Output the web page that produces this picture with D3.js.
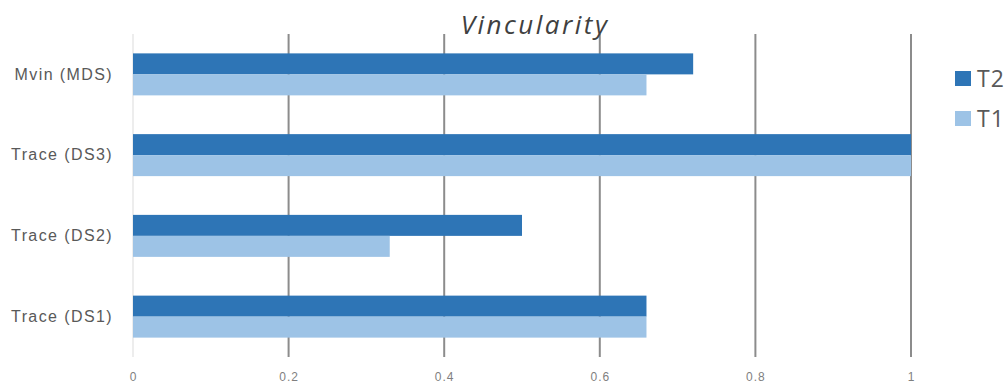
<!DOCTYPE html>
<html>
<head>
<meta charset="utf-8">
<script src="https://cdn.jsdelivr.net/npm/d3@7"></script>
<style>
  html, body { margin: 0; padding: 0; background: #fff; }
  svg { display: block; font-family: "Open Sans", "Noto Sans", sans-serif; }
</style>
</head>
<body>
<svg id="chart" width="1008" height="385"></svg>
<script>
// Vincularity scores per method, two time points
const categories = ["Mvin (MDS)", "Trace (DS3)", "Trace (DS2)", "Trace (DS1)"];
const seriesNames = ["T2", "T1"];
const t2Values = [0.72, 1.0, 0.5, 0.66];
const t1Values = [0.66, 1.0, 0.33, 0.66];
const tickValues = [0, 0.2, 0.4, 0.6, 0.8, 1];
const tickLabels = ["0", "0.2", "0.4", "0.6", "0.8", "1"];
const colors = { T2: "#2e75b6", T1: "#9dc3e6" };

const rows = categories.map((c, i) => ({ category: c, T2: t2Values[i], T1: t1Values[i] }));

const svg = d3.select("#chart");
const margin = { left: 133, right: 97, top: 34, bottom: 28 };
const width = 1008, height = 385;

const x = d3.scaleLinear().domain([0, 1]).range([margin.left, width - margin.right]);
const y = d3.scaleBand().domain(categories).range([margin.top, height - margin.bottom]).paddingInner(0.48).paddingOuter(0.24);
const ySub = d3.scaleBand().domain(seriesNames).range([0, y.bandwidth()]);

// vertical gridlines
svg.append("g").selectAll("line").data(tickValues).join("line")
  .attr("x1", d => x(d)).attr("x2", d => x(d))
  .attr("y1", margin.top).attr("y2", height - margin.bottom)
  .attr("stroke", d => d === 0 ? "#ededed" : "#8c8c8c")
  .attr("stroke-width", 2);

// bars
const groups = svg.append("g").selectAll("g").data(rows).join("g")
  .attr("transform", d => `translate(0,${y(d.category)})`);
groups.selectAll("rect").data(d => seriesNames.map(s => ({ s, v: d[s] }))).join("rect")
  .attr("x", x(0))
  .attr("y", d => ySub(d.s))
  .attr("width", d => x(d.v) - x(0))
  .attr("height", ySub.bandwidth())
  .attr("fill", d => colors[d.s]);

// category labels
const yAxis = svg.append("g").attr("transform", `translate(${margin.left - 20},0)`)
  .call(d3.axisLeft(y).tickSize(0).tickPadding(0));
yAxis.select(".domain").remove();
yAxis.selectAll("text").attr("fill", "#595959").style("font-size", "16px").style("letter-spacing", "1.4px");

// value axis labels
const xAxis = svg.append("g").attr("transform", `translate(0,${height - 8})`)
  .call(d3.axisBottom(x).tickValues(tickValues).tickFormat((d, i) => tickLabels[i]).tickSize(0).tickPadding(0));
xAxis.select(".domain").remove();
xAxis.selectAll("text").attr("fill", "#7f7f7f").style("font-size", "12px").style("letter-spacing", "1px").attr("dy", "0.32em").attr("y", 0);

// title
svg.append("text").attr("x", 535).attr("y", 34)
  .attr("text-anchor", "middle").attr("font-style", "italic")
  .attr("fill", "#404040").style("font-size", "26px").style("letter-spacing", "2.5px").text("Vincularity");

// legend
const legend = svg.append("g").selectAll("g").data(seriesNames).join("g")
  .attr("transform", (d, i) => `translate(955,${71 + i * 40})`);
legend.append("rect").attr("width", 16).attr("height", 15).attr("fill", d => colors[d]);
legend.append("text").attr("x", 22).attr("y", 8).attr("dy", "0.35em")
  .attr("fill", "#595959").style("font-size", "23px").style("letter-spacing", "1px").text(d => d);
</script>
</body>
</html>
